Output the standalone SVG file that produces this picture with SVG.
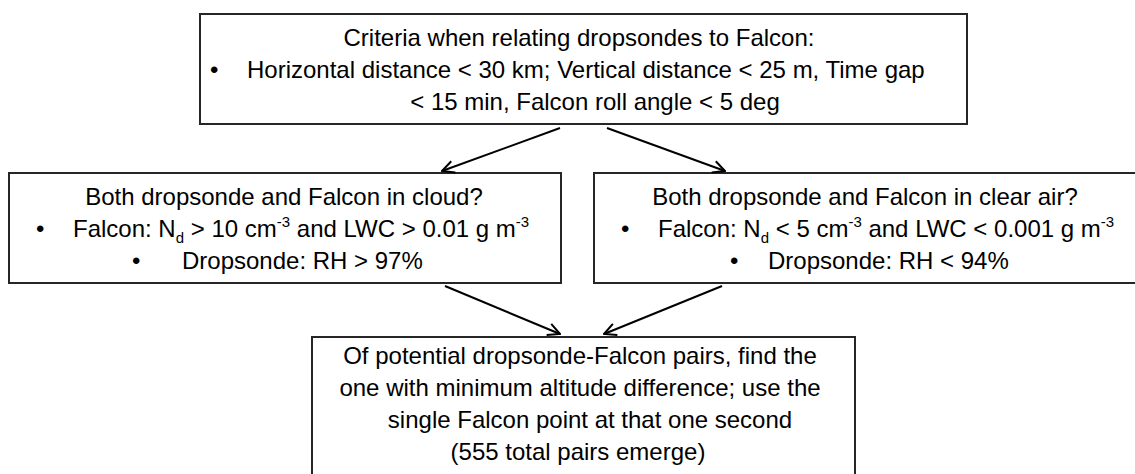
<svg xmlns="http://www.w3.org/2000/svg" width="1135" height="474" viewBox="0 0 1135 474">
<defs>
<style>
.box{fill:#fff;stroke:#262626;stroke-width:2}
.t{font-family:"Liberation Sans",Arial,sans-serif;font-size:24px;fill:#000}
.m{text-anchor:middle}
.sup{font-size:15px}
.conn{stroke:#000;stroke-width:2;fill:none;marker-end:url(#ah)}
</style>
<marker id="ah" viewBox="0 0 14 14" refX="13" refY="7" markerWidth="14" markerHeight="14" markerUnits="userSpaceOnUse" orient="auto">
<path d="M1,1 L13,7 L1,13" fill="none" stroke="#000" stroke-width="2"/>
</marker>
</defs>
<rect width="1135" height="474" fill="#fff"/>
<g id="n-criteria">
<rect class="box" x="200" y="14" width="767" height="110"/>
<text class="t m" x="579" y="46">Criteria when relating dropsondes to Falcon:</text>
<text class="t" x="210" y="78">•</text>
<text class="t" x="247" y="78">Horizontal distance &lt; 30 km; Vertical distance &lt; 25 m, Time gap</text>
<text class="t m" x="595" y="110">&lt; 15 min, Falcon roll angle &lt; 5 deg</text>
</g>
<g id="n-cloud">
<rect class="box" x="9" y="173" width="552" height="110"/>
<text class="t m" x="284" y="205">Both dropsonde and Falcon in cloud?</text>
<text class="t" x="36" y="237">•</text>
<text class="t" x="73" y="237">Falcon: N<tspan class="sup" dy="6">d</tspan><tspan dy="-6"> &gt; 10 cm</tspan><tspan class="sup" dy="-10">-3</tspan><tspan dy="10"> and LWC &gt; 0.01 g m</tspan><tspan class="sup" dy="-10">-3</tspan></text>
<text class="t" x="132" y="269">•</text>
<text class="t" x="182" y="269">Dropsonde: RH &gt; 97%</text>
</g>
<g id="n-clear">
<rect class="box" x="594" y="173" width="543" height="110"/>
<text class="t m" x="865" y="205">Both dropsonde and Falcon in clear air?</text>
<text class="t" x="621" y="237">•</text>
<text class="t" x="658" y="237">Falcon: N<tspan class="sup" dy="6">d</tspan><tspan dy="-6"> &lt; 5 cm</tspan><tspan class="sup" dy="-10">-3</tspan><tspan dy="10"> and LWC &lt; 0.001 g m</tspan><tspan class="sup" dy="-10">-3</tspan></text>
<text class="t" x="730" y="269">•</text>
<text class="t" x="768" y="269">Dropsonde: RH &lt; 94%</text>
</g>
<g id="n-pairs">
<rect class="box" x="312" y="337" width="543" height="145"/>
<text class="t m" x="580" y="364">Of potential dropsonde-Falcon pairs, find the</text>
<text class="t m" x="580" y="396">one with minimum altitude difference; use the</text>
<text class="t m" x="590" y="428">single Falcon point at that one second</text>
<text class="t m" x="578" y="460">(555 total pairs emerge)</text>
</g>
<g id="connectors">
<line class="conn" x1="560" y1="128" x2="442" y2="171"/>
<line class="conn" x1="607" y1="128" x2="725" y2="171"/>
<line class="conn" x1="445" y1="286" x2="560" y2="334"/>
<line class="conn" x1="722" y1="286" x2="604" y2="334"/>
</g>
</svg>
